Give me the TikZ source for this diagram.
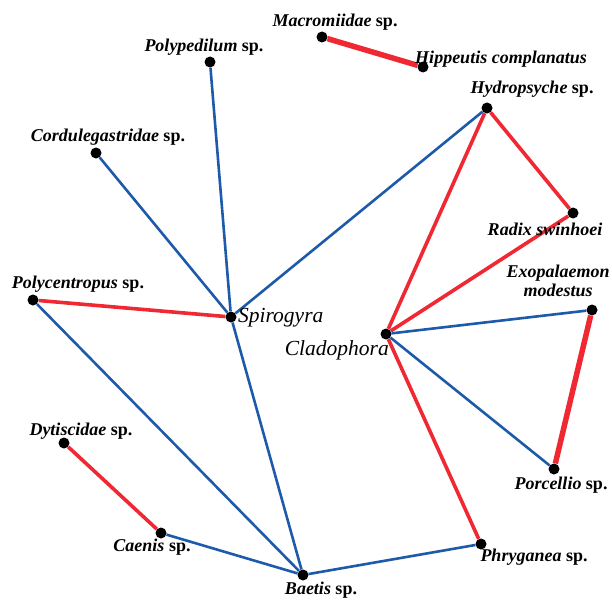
\documentclass[tikz,border=0pt]{standalone}
\usepackage{fontspec}
\setmainfont{Liberation Serif}
\usetikzlibrary{backgrounds}
\definecolor{eblue}{RGB}{30,90,170}
\definecolor{ered}{RGB}{240,40,50}
\begin{document}
\begin{tikzpicture}[x=1pt,y=-1pt,
  dot/.style={circle,fill=black,inner sep=0pt,minimum size=11pt},
  lab/.style={font=\fontsize{18}{19}\selectfont\bfseries,inner sep=0pt,align=center},
  big/.style={font=\fontsize{21.5}{24}\selectfont\itshape,inner sep=0pt},
  redlink/.style={draw=ered,line width=3.6pt},
  bluelink/.style={draw=eblue,line width=2.6pt},
  thickred/.style={draw=ered,line width=5.5pt}]
\useasboundingbox (0,0) rectangle (612,599);
% dots
\node[dot] (mac) at (322,37) {};
\node[dot] (hip) at (423,67) {};
\node[dot] (pol) at (210,62) {};
\node[dot] (hyd) at (487,108) {};
\node[dot] (cor) at (96,153) {};
\node[dot] (rad) at (573,213) {};
\node[dot] (pcp) at (33,300) {};
\node[dot] (spi) at (231,317) {};
\node[dot] (cla) at (386,334) {};
\node[dot] (exo) at (592,310) {};
\node[dot] (dyt) at (64,443) {};
\node[dot] (por) at (554,469) {};
\node[dot] (cae) at (161,533) {};
\node[dot] (phr) at (481,544) {};
\node[dot] (bae) at (303,575) {};
% labels
\node[lab] (tmac) at (335,22) {\textit{Macromiidae} sp.};
\node[lab] (thip) at (501,59) {\textit{Hippeutis complanatus}};
\node[lab] (tpol) at (204,47) {\textit{Polypedilum} sp.};
\node[lab] (thyd) at (532,89) {\textit{Hydropsyche} sp.};
\node[lab] (tcor) at (108,137) {\textit{Cordulegastridae} sp.};
\node[lab] (trad) at (545,229) {\textit{Radix swinhoei}};
\node[lab] (texo) at (558,281) {\textit{Exopalaemon}\\\textit{modestus}};
\node[lab] (tpcp) at (78,284) {\textit{Polycentropus} sp.};
\node[big,anchor=west] (tspi) at (238,318) {Spirogyra};
\node[big,anchor=east] (tcla) at (389,350) {Cladophora};
\node[lab] (tdyt) at (81,431) {\textit{Dytiscidae} sp.};
\node[lab] (tpor) at (561,485) {\textit{Porcellio} sp.};
\node[lab] (tcae) at (152,547) {\textit{Caenis} sp.};
\node[lab] (tphr) at (534,557) {\textit{Phryganea} sp.};
\node[lab] (tbae) at (321,590) {\textit{Baetis} sp.};
% edges
\begin{pgfonlayer}{background}
\draw[thickred] (mac) -- (hip);
\draw[bluelink] (pol) -- (spi);
\draw[bluelink] (cor) -- (spi);
\draw[bluelink] (hyd) -- (spi);
\draw[redlink] (pcp) -- (spi);
\draw[bluelink] (pcp) -- (bae);
\draw[bluelink] (spi) -- (bae);
\draw[redlink] (hyd) -- (cla);
\draw[redlink] (hyd) -- (rad);
\draw[redlink] (rad) -- (cla);
\draw[bluelink] (cla) -- (exo);
\draw[bluelink] (cla) -- (por);
\draw[redlink] (cla) -- (phr);
\draw[thickred] (exo) -- (por);
\draw[redlink] (dyt) -- (cae);
\draw[bluelink] (cae) -- (bae);
\draw[bluelink] (bae) -- (phr);
\end{pgfonlayer}
\end{tikzpicture}
\end{document}
